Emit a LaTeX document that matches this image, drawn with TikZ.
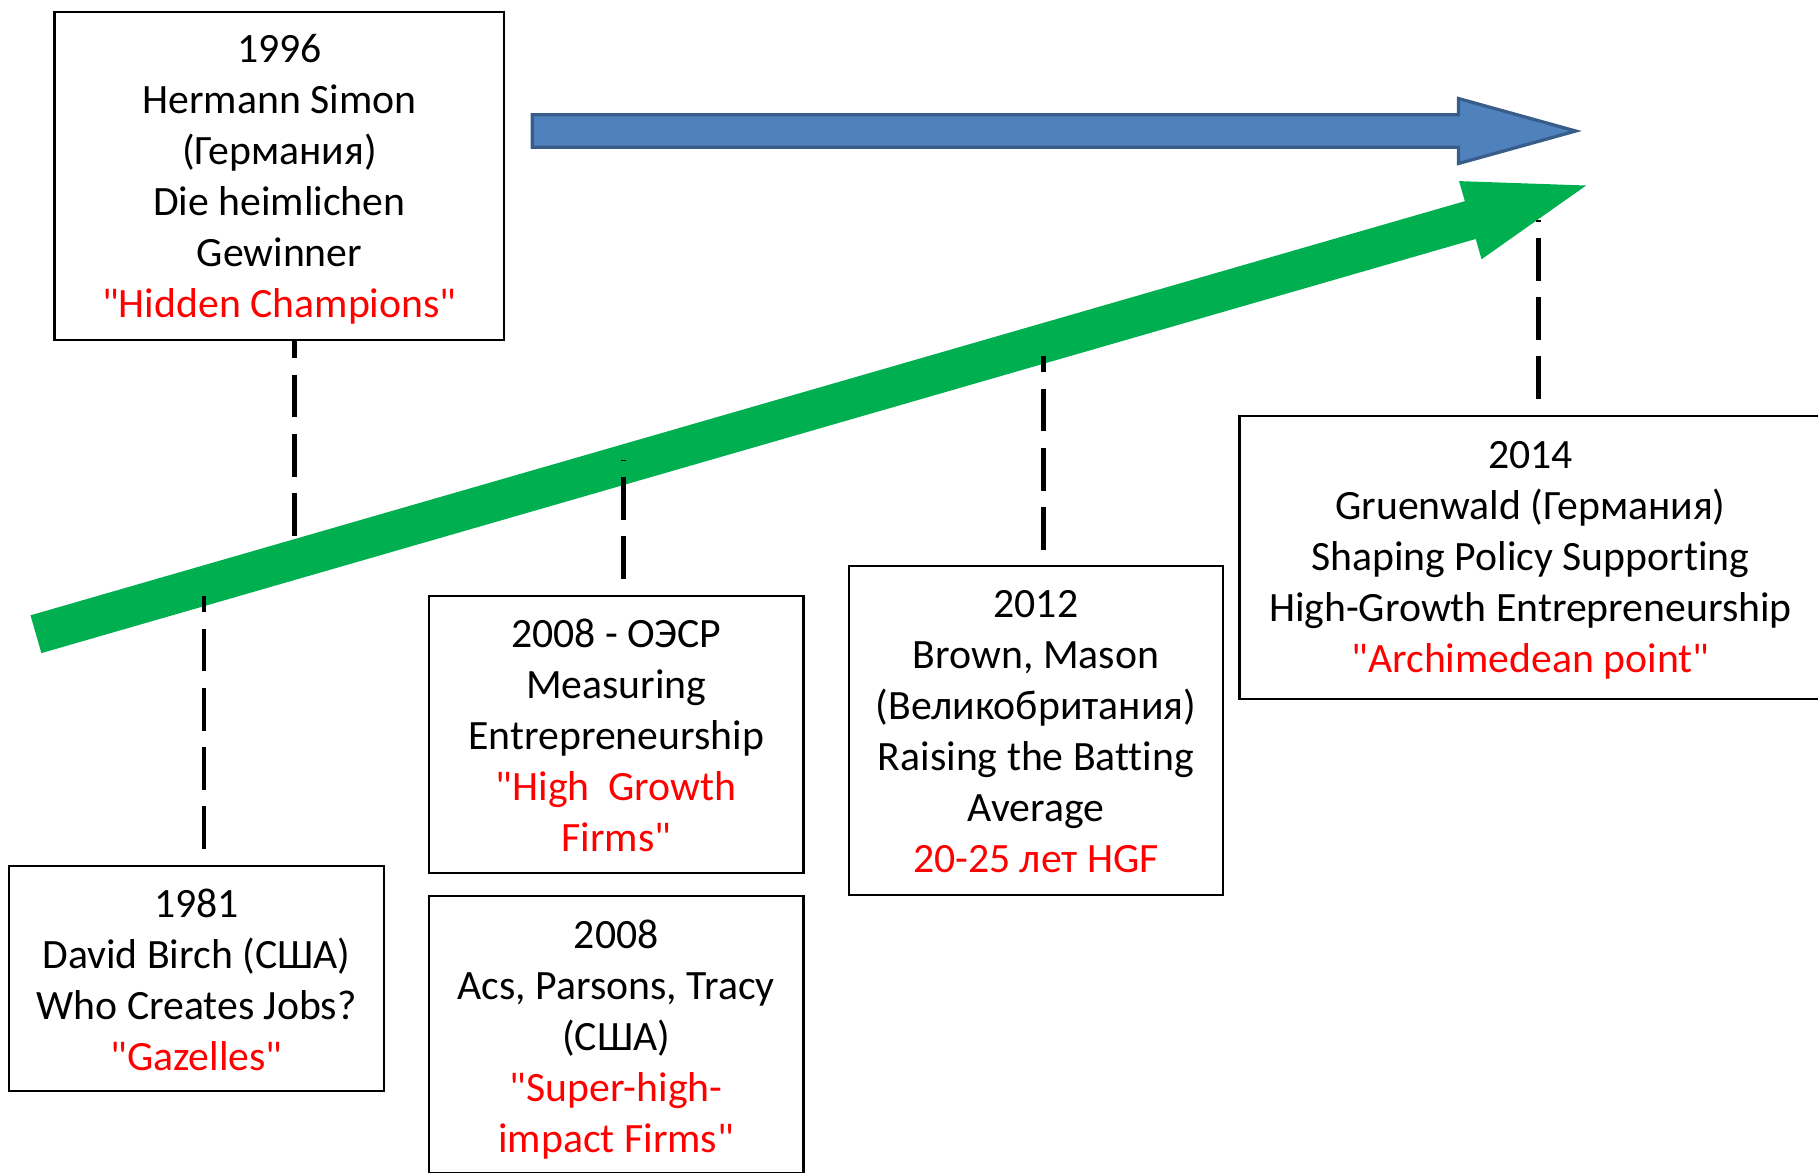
\documentclass[tikz,border=0pt]{standalone}
\usepackage{fontspec}
\setmainfont{Carlito}
\newfontfamily\calib{Carlito}[Ligatures=CommonOff]
\usetikzlibrary{calc}
\definecolor{grn}{HTML}{00B050}
\definecolor{bluefill}{HTML}{4F81BD}
\definecolor{blueedge}{HTML}{385D8A}
\definecolor{txtred}{HTML}{FF0000}
\begin{document}
\begin{tikzpicture}[x=0.5pt,y=-0.5pt,
  box/.style={draw=black,line width=0.9pt,fill=white,inner sep=0pt},
  boxtext/.style={inner sep=0pt,align=center,font=\calib\fontsize{18pt}{22pt}\selectfont},
  dashline/.style={draw=black,line width=2pt,dash pattern=on 18.5pt off 7pt},
  greenarrow/.style={fill=grn},
  bluearrow/.style={fill=bluefill,draw=blueedge,line width=1.4pt,line join=miter}]
\useasboundingbox (0,0) rectangle (1568,1011);
% green rising arrow
\fill[greenarrow] (26.3,530.7) -- (1263.4,173.5) -- (1258.4,156.2) -- (1368,160) -- (1277.8,223.6) -- (1272.8,206.1) -- (35.7,563.3) -- cycle;
% blue horizontal arrow
\filldraw[bluearrow] (459,99) -- (1258,99) -- (1258,85) -- (1359,113) -- (1258,141) -- (1258,127) -- (459,127) -- cycle;
% boxes
\node[box,minimum width=194pt,minimum height=141.5pt] (b1996) at (241,151.5) {};
\node[boxtext] (t1996) at ([yshift=-1.5pt]b1996.center)
  {1996\\Hermann Simon\\(Германия)\\Die heimlichen\\Gewinner\\\textcolor{txtred}{"Hidden Champions"}};
\node[box,minimum width=161.5pt,minimum height=97pt] (b1981) at (169.5,844) {};
\node[boxtext] (t1981) at ([yshift=-0.5pt]b1981.center)
  {1981\\David Birch (США)\\Who Creates Jobs?\\\textcolor{txtred}{"Gazelles"}};
\node[box,minimum width=161.5pt,minimum height=119.5pt] (bOECD) at (531.5,633.5) {};
\node[boxtext] (tOECD) at ([yshift=-0.5pt]bOECD.center)
  {2008 - ОЭСР\\Measuring\\Entrepreneurship\\\textcolor{txtred}{"High~~Growth}\\\textcolor{txtred}{Firms"}};
\node[box,minimum width=161.5pt,minimum height=119.5pt] (bAcs) at (531.5,892.5) {};
\node[boxtext] (tAcs) at ([yshift=-2pt]bAcs.center)
  {2008\\Acs, Parsons, Tracy\\(США)\\\textcolor{txtred}{"Super-high-}\\\textcolor{txtred}{impact Firms"}};
\node[box,minimum width=161.5pt,minimum height=142pt] (b2012) at (893.5,630) {};
\node[boxtext] (t2012) at ([yshift=-0.5pt]b2012.center)
  {2012\\Brown, Mason\\(Великобритания)\\Raising the Batting\\Average\\\textcolor{txtred}{20-25 лет HGF}};
\node[box,minimum width=251pt,minimum height=122pt] (b2014) at (1320,481) {};
\node[boxtext] (t2014) at ([yshift=-1pt]b2014.center)
  {2014\\Gruenwald (Германия)\\Shaping Policy Supporting\\High-Growth Entrepreneurship\\\textcolor{txtred}{"Archimedean point"}};
% dashed connectors
\coordinate (e1) at (254,462);
\draw[dashline] (e1) -- (e1 |- b1996.south);
\coordinate (e2) at (176,514);
\draw[dashline] ($(e2 |- b1981.north)+(0,-14)$) -- (e2);
\coordinate (e3) at (538,397);
\draw[dashline] ($(e3 |- bOECD.north)+(0,-14)$) -- (e3);
\coordinate (e4) at (900,307);
\draw[dashline] ($(e4 |- b2012.north)+(0,-13)$) -- (e4);
\coordinate (e5) at (1327,190);
\draw[dashline] ($(e5 |- b2014.north)+(0,-14)$) -- (e5);
\end{tikzpicture}
\end{document}
